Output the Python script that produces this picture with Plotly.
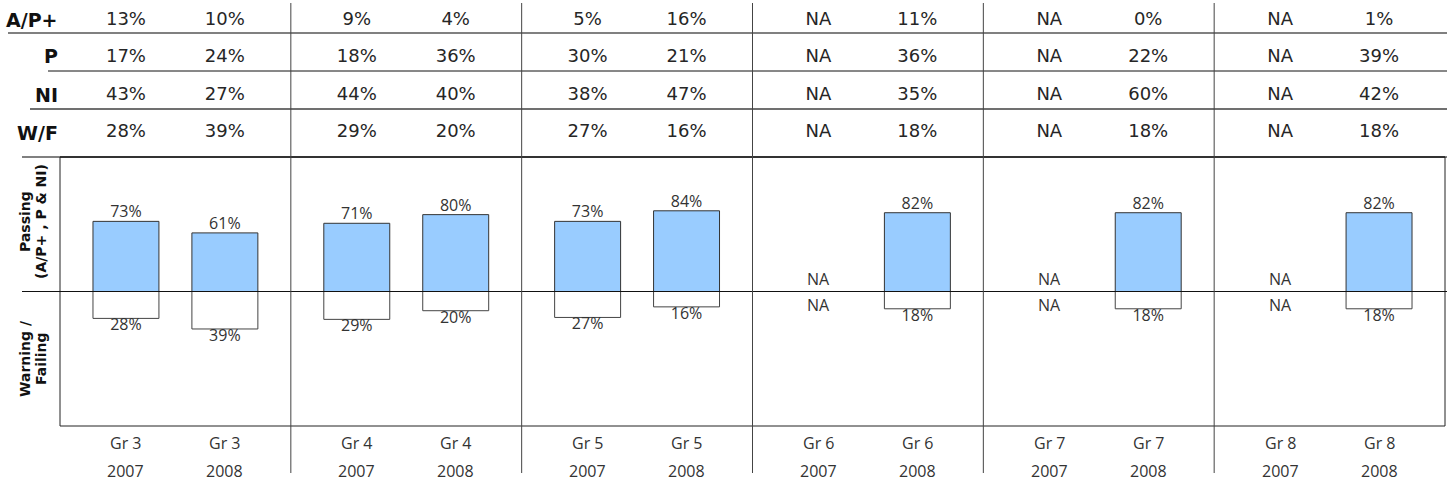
import plotly.graph_objects as go

# ---------------- data ----------------
grades = ["Gr 3", "Gr 3", "Gr 4", "Gr 4", "Gr 5", "Gr 5",
          "Gr 6", "Gr 6", "Gr 7", "Gr 7", "Gr 8", "Gr 8"]
years = ["2007", "2008"] * 6
row_labels = ["A/P+", "P", "NI", "W/F"]
ap_plus = [13, 10, 9, 4, 5, 16, None, 11, None, 0, None, 1]
prof = [17, 24, 18, 36, 30, 21, None, 36, None, 22, None, 39]
needs_imp = [43, 27, 44, 40, 38, 47, None, 35, None, 60, None, 42]
warn_fail = [28, 39, 29, 20, 27, 16, None, 18, None, 18, None, 18]
passing = [73, 61, 71, 80, 73, 84, None, 82, None, 82, None, 82]
failing = [28, 39, 29, 20, 27, 16, None, 18, None, 18, None, 18]

# ---------------- geometry helpers ----------------
W, H = 1447, 483
L, R, B = 60, 2, 57
PLOT_TOP_PX = 157
AREA_H = H - B  # 426 px (margin top 0)
y_dom_top = (AREA_H - PLOT_TOP_PX) / AREA_H


def py(px):
    return (AREA_H - px) / AREA_H


def pxx(px):
    return (px - L) / (W - L - R)


n = len(grades)
xpos = [7 * (i // 2) + 2 + 3 * (i % 2) for i in range(n)]
fmt = lambda v: "NA" if v is None else f"{v}%"

FONT_T = "DejaVu Sans"
FONT_S = "Open Sans"
LBL_SIZE = 16

fig = go.Figure()

# bars
fig.add_trace(go.Bar(
    x=xpos, y=passing, width=2, marker=dict(color="#99CCFF", line=dict(color="#333333", width=1)),
    hoverinfo="skip", showlegend=False))
fig.add_trace(go.Bar(
    x=xpos, y=[None if v is None else -v for v in failing], width=2,
    marker=dict(color="#FFFFFF", line=dict(color="#444444", width=1)),
    hoverinfo="skip", showlegend=False))

# bar labels (values)
fig.add_trace(go.Scatter(
    x=[x for x, v in zip(xpos, passing) if v is not None],
    y=[v for v in passing if v is not None], mode="text",
    text=[fmt(v) for v in passing if v is not None], textposition="top center",
    textfont=dict(family=FONT_S, size=LBL_SIZE, color="#333333"),
    hoverinfo="skip", showlegend=False))
fig.add_trace(go.Scatter(
    x=[x for x, v in zip(xpos, failing) if v is not None],
    y=[-v for v in failing if v is not None], mode="text",
    text=[fmt(v) for v in failing if v is not None], textposition="bottom center",
    textfont=dict(family=FONT_S, size=LBL_SIZE, color="#333333"),
    hoverinfo="skip", showlegend=False))

# table (rows on y2)
table_rows = [ap_plus, prof, needs_imp, warn_fail]
for r, vals in enumerate(table_rows):
    fig.add_trace(go.Scatter(
        x=xpos, y=[r] * n, yaxis="y2", mode="text",
        text=[fmt(v) for v in vals], textposition="middle center",
        textfont=dict(family=FONT_T, size=18, color="#262626"),
        hoverinfo="skip", showlegend=False))

shapes = []
# row rules
rules = [(33, 8, "#808080", 2), (71, 48, "#111111", 1), (109, 30, "#707070", 2), (157, 22, "#808080", 2)]
for ypx, x0px, col, wd in rules:
    shapes.append(dict(type="line", xref="paper", yref="paper", x0=pxx(x0px), x1=pxx(W),
                       y0=py(ypx), y1=py(ypx), line=dict(color=col, width=wd)))
# plot box
shapes.append(dict(type="line", xref="paper", yref="paper", x0=0, x1=1, y0=py(157), y1=py(157),
                   line=dict(color="#333333", width=2)))
shapes.append(dict(type="line", xref="paper", yref="paper", x0=0, x1=1, y0=0, y1=0,
                   line=dict(color="#222222", width=1)))
shapes.append(dict(type="line", xref="paper", yref="paper", x0=0, x1=0, y0=0, y1=py(157),
                   line=dict(color="#222222", width=1)))
shapes.append(dict(type="line", xref="paper", yref="paper", x0=1, x1=1, y0=0, y1=py(157),
                   line=dict(color="#222222", width=1)))
# zero line
shapes.append(dict(type="line", xref="paper", yref="y", x0=pxx(22), x1=pxx(W), y0=0, y1=0,
                   line=dict(color="#111111", width=1), layer="above"))
# group dividers
for g in range(1, 6):
    shapes.append(dict(type="line", xref="x", yref="paper", x0=7 * g, x1=7 * g,
                       y0=py(473), y1=py(3), line=dict(color="#444444", width=1)))

annotations = []
# NA labels at zero for missing bars
for i in range(n):
    if passing[i] is None:
        annotations.append(dict(text="NA", xref="x", yref="y", x=xpos[i], y=0, yshift=1,
                                xanchor="center", yanchor="bottom", showarrow=False, borderpad=0,
                                font=dict(family=FONT_S, size=LBL_SIZE, color="#333333")))
    if failing[i] is None:
        annotations.append(dict(text="NA", xref="x", yref="y", x=xpos[i], y=0, yshift=-1,
                                xanchor="center", yanchor="top", showarrow=False, borderpad=0,
                                font=dict(family=FONT_S, size=LBL_SIZE, color="#333333")))
# row labels
row_centers_px = [20, 56.5, 95, 132.5]
for lab, cy in zip(row_labels, row_centers_px):
    annotations.append(dict(text=f"<b>{lab}</b>", xref="paper", yref="paper", x=pxx(60), y=py(cy),
                            xanchor="right", yanchor="middle", showarrow=False,
                            font=dict(family=FONT_T, size=19, color="#111111")))
# bottom labels
for i in range(n):
    annotations.append(dict(text=grades[i], xref="x", yref="paper", x=xpos[i], y=py(443),
                            xanchor="center", yanchor="middle", showarrow=False,
                            font=dict(family=FONT_S, size=LBL_SIZE, color="#333333")))
    annotations.append(dict(text=years[i], xref="x", yref="paper", x=xpos[i], y=py(471),
                            xanchor="center", yanchor="middle", showarrow=False,
                            font=dict(family=FONT_S, size=LBL_SIZE, color="#333333")))
# y titles
for txt, xp, yc in [("Passing", 25, 222), ("(A/P+ , P & NI)", 41, 222),
                    ("Warning /", 25, 359), ("Failing", 41, 359)]:
    annotations.append(dict(text=f"<b>{txt}</b>", xref="paper", yref="paper", x=pxx(xp), y=py(yc),
                            xanchor="center", yanchor="middle", textangle=-90, showarrow=False,
                            font=dict(family=FONT_T, size=14, color="#111111")))

fig.update_layout(
    width=W, height=H, margin=dict(l=L, r=R, t=0, b=B),
    paper_bgcolor="white", plot_bgcolor="white",
    barmode="overlay", showlegend=False,
    xaxis=dict(range=[0, 42], showgrid=False, zeroline=False, showticklabels=False, showline=False, fixedrange=True),
    yaxis=dict(domain=[0, y_dom_top], range=[-140, 140], showgrid=False, zeroline=False,
               showticklabels=False, showline=False, fixedrange=True),
    yaxis2=dict(domain=[y_dom_top, 1], range=[(PLOT_TOP_PX - 20) / 37.5, -20 / 37.5], anchor="x",
                showgrid=False, zeroline=False, showticklabels=False, showline=False, fixedrange=True),
    shapes=shapes, annotations=annotations,
)

fig.write_html("out.html", config={"displayModeBar": False},
               post_script="document.body.style.margin='0';document.body.style.overflow='hidden';")
